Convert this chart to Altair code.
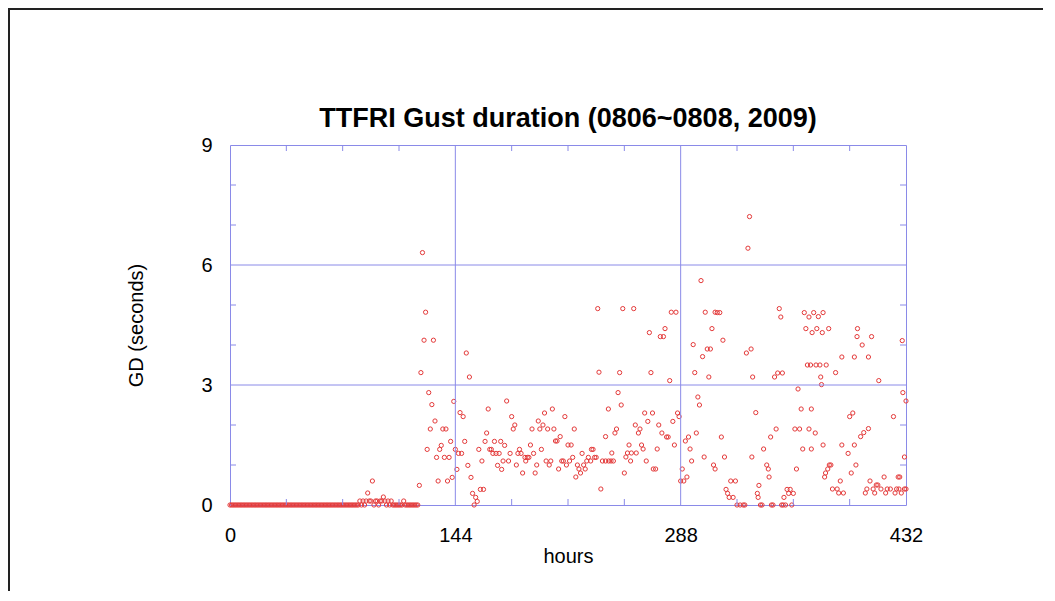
import altair as alt
import pandas as pd

# ---- data ----
hours_early = list(range(0, 121))
gd_early = [
    0, 0, 0, 0, 0, 0, 0, 0, 0, 0,
    0, 0, 0, 0, 0, 0, 0, 0, 0, 0,
    0, 0, 0, 0, 0, 0, 0, 0, 0, 0,
    0, 0, 0, 0, 0, 0, 0, 0, 0, 0,
    0, 0, 0, 0, 0, 0, 0, 0, 0, 0,
    0, 0, 0, 0, 0, 0, 0, 0, 0, 0,
    0, 0, 0, 0, 0, 0, 0, 0, 0, 0,
    0, 0, 0, 0, 0, 0, 0, 0, 0, 0,
    0, 0, 0, 0.1, 0, 0.1, 0, 0.1, 0.3, 0.1,
    0.1, 0.6, 0, 0.1, 0.1, 0, 0.1, 0.1, 0.2, 0.1,
    0, 0.1, 0, 0.1, 0, 0, 0, 0, 0, 0,
    0, 0.1, 0, 0, 0, 0, 0, 0, 0, 0,
    0,
]

hours_late = [
    121, 122, 123, 124, 125, 126, 127, 128, 129, 130,
    131, 132, 133, 134, 135, 136, 137, 138, 139, 140,
    141, 142, 143, 144, 145, 146, 147, 148, 149, 150,
    151, 152, 153, 154, 155, 156, 157, 158, 159, 160,
    161, 162, 163, 164, 165, 166, 167, 168, 169, 170,
    171, 172, 173, 173.6, 174.5, 175.5, 176.8, 178, 179, 180,
    181, 182, 183, 184, 185, 186, 187, 188.5, 189, 190,
    191, 192, 193, 194, 195, 196, 197, 198, 199, 200,
    201, 202, 203, 204, 205, 206, 207, 208, 209, 210,
    211, 212, 213, 214, 215, 216, 217, 218, 219, 220,
    221, 222, 223, 224, 225, 226, 227, 228, 229, 230.5,
    231, 232, 233, 234, 235, 235.8, 237, 238, 240, 240,
    241.8, 242, 243.5, 244, 245, 246, 247, 248, 249, 250,
    251, 252, 253, 254, 255, 256, 256.5, 258, 259, 259.6,
    261, 262, 263, 264, 265, 266, 267, 268, 269, 270,
    270.5, 272, 273, 274, 275, 276, 277, 278, 279, 280,
    281, 282, 283, 284, 285, 286, 287, 288, 289, 290,
    291, 292, 293, 294, 295, 296, 297, 298, 299, 300,
    301, 302, 303, 303.7, 305, 306, 307, 308, 309, 310,
    310, 311.4, 313, 314, 315, 316, 317, 318, 319, 320,
    321.5, 323, 324, 326, 328, 329, 330, 331, 332, 333,
    333.5, 334, 336, 337, 337.5, 338, 339, 340, 341, 343,
    344, 344.5, 345.5, 346, 347, 348, 349, 350, 351, 352,
    352.5, 353, 353.5, 354, 355, 356, 357, 358, 359, 360,
    361, 362, 363, 364, 365, 366, 367, 368, 369, 370,
    370, 371, 371.5, 371.5, 372, 373, 374, 374.5, 375, 376,
    377, 377.5, 378, 378.5, 379, 379, 380, 380.6, 381, 382,
    382.6, 383, 384, 385, 387, 388, 389, 390, 391, 391,
    392, 395, 396, 397, 398, 399, 399, 400, 400.7, 401,
    403, 404, 405, 406, 407, 408, 408, 409, 410, 411,
    412, 413, 414, 414.6, 416, 418, 419, 420, 422, 424,
    425, 426, 427, 427.5, 428, 429, 429.6, 430, 431, 431,
    432, 432,
]
gd_late = [
    0.49, 3.31, 6.31, 4.12, 4.82, 1.39, 2.81, 1.9, 2.51, 4.12,
    2.1, 1.19, 0.6, 1.39, 1.49, 1.9, 1.19, 1.9, 0.6, 1.19,
    1.59, 0.69, 2.59, 1.39, 0.89, 1.29, 2.31, 1.29, 2.21, 1.59,
    3.8, 0.99, 3.2, 0.69, 0.29, 0, 0.19, 0.09, 1.39, 0.39,
    1.1, 0.39, 1.59, 1.8, 2.4, 1.39, 1.39, 1.29, 1.59, 1.29,
    0.99, 1.29, 1.59, 0.89, 1.1, 1.49, 2.6, 1.1, 1.29, 2.21,
    1.9, 2.0, 1.0, 1.29, 1.39, 1.29, 0.8, 1.19, 1.1, 1.19,
    1.19, 1.5, 1.9, 1.29, 0.8, 1.0, 2.1, 1.9, 1.39, 2.0,
    2.3, 1.1, 1.9, 1.0, 1.1, 2.4, 1.9, 1.6, 1.6, 0.9,
    1.71, 1.1, 1.1, 2.21, 1.0, 1.5, 1.1, 1.5, 1.19, 1.9,
    0.7, 1.0, 0.9, 0.8, 1.29, 1.0, 0.9, 1.1, 1.19, 1.1,
    1.39, 1.39, 1.19, 1.19, 4.91, 3.32, 0.4, 1.1, 1.1, 1.71,
    2.4, 1.1, 1.1, 1.3, 1.1, 1.8, 1.9, 2.81, 3.31, 2.5,
    4.91, 0.8, 1.2, 1.3, 1.5, 1.1, 1.3, 4.91, 2.0, 1.3,
    1.8, 1.9, 1.5, 1.4, 2.3, 1.1, 2.09, 4.31, 3.31, 2.3,
    0.9, 0.9, 1.4, 2.0, 4.21, 1.8, 4.21, 4.41, 1.7, 1.7,
    3.11, 4.82, 2.09, 1.5, 4.82, 2.3, 2.21, 0.6, 0.9, 0.6,
    1.6, 0.7, 1.7, 1.4, 1.1, 4.01, 3.31, 1.8, 2.7, 2.5,
    5.61, 3.71, 1.2, 4.82, 3.9, 3.2, 3.9, 4.41, 1.0, 0.9,
    4.82, 4.81, 4.81, 1.7, 4.12, 1.2, 0.39, 0.29, 0.19, 0.6,
    0.19, 0.6, 0, 0, 0, 0, 3.8, 6.42, 7.21, 3.9,
    1.2, 3.2, 2.31, 0.29, 0.19, 0.49, 0, 0, 1.4, 1.0,
    0.9, 0.7, 1.7, 0, 0, 3.2, 1.9, 3.3, 4.91, 4.7,
    0, 3.3, 0, 0.19, 0, 0.39, 0.29, 0.39, 0, 0.29,
    1.9, 0.9, 2.9, 1.9, 2.4, 1.4, 4.81, 4.41, 3.5, 4.7,
    1.9, 3.5, 2.4, 1.4, 4.31, 4.81, 1.8, 3.5, 4.41, 4.71,
    3.5, 3.2, 3.01, 4.31, 4.81, 1.5, 0.7, 0.8, 3.5, 0.9,
    4.41, 1.0, 1.0, 0.4, 3.31, 0.4, 0.3, 0.6, 3.7, 1.5,
    0.3, 1.29, 2.21, 0.8, 2.3, 3.7, 1.5, 1.0, 4.21, 4.41,
    1.71, 4.0, 1.81, 0.3, 0.4, 3.7, 1.91, 0.6, 4.21, 0.4,
    0.3, 0.5, 0.5, 3.11, 0.4, 0.7, 0.3, 0.4, 0.4, 2.21,
    0.3, 0.4, 0.7, 0.4, 0.7, 0.3, 4.11, 2.81, 1.2, 0.4,
    2.6, 0.4,
]

x_tick_values = [0, 144, 288, 432]
y_tick_values = [0, 3, 6, 9]
x_minor = [36, 72, 108, 180, 216, 252, 324, 360, 396]
y_minor = [1, 2, 4, 5, 7, 8]
x_grid = [144, 288]
y_grid = [3, 6]

title_text = "TTFRI Gust duration (0806~0808, 2009)"

# ---- chart ----
FONT = "Liberation Sans"
BLUE = "#8a8ae8"
RED = "#e43a3a"
W, H = 676, 360

df = pd.DataFrame({"hours": hours_early + hours_late, "gd": gd_early + gd_late})
xs = alt.Scale(domain=[0, 432], nice=False, zero=False)
ys = alt.Scale(domain=[0, 9], nice=False)

x_axis = alt.Axis(
    values=x_tick_values, format="d", ticks=False, domain=False, grid=False,
    labelFont=FONT, labelFontSize=20, labelColor="black", labelPadding=20,
    labelFlush=False,
    title="hours", titleFont=FONT, titleFontSize=20, titleFontWeight="normal",
    titleColor="black", titleY=57, titleBaseline="alphabetic",
)
y_axis = alt.Axis(
    values=y_tick_values, format="d", ticks=False, domain=False, grid=False,
    labelFont=FONT, labelFontSize=20, labelColor="black", labelPadding=18,
    title="GD (seconds)", titleFont=FONT, titleFontSize=20,
    titleFontWeight="normal", titleColor="black", titleAngle=270,
    titleX=-88, titleY=H / 2, titleAlign="center", titleBaseline="alphabetic",
)


def X():
    return alt.X("hours:Q", scale=xs, axis=x_axis)


def Y():
    return alt.Y("gd:Q", scale=ys, axis=y_axis)


one = pd.DataFrame({"t": [title_text]})
title_mark = alt.Chart(one).mark_text(
    font=FONT, fontSize=27, fontWeight="bold", color="black",
    align="center", baseline="alphabetic",
).encode(text="t:N", x=alt.value(W / 2), y=alt.value(-18))

# outer figure frame (decoration)
frame = alt.Chart(one).mark_rect(
    fillOpacity=0, stroke="#222222", strokeWidth=2
).encode(x=alt.value(-221), x2=alt.value(814), y=alt.value(-136), y2=alt.value(900))

vgrid = alt.Chart(pd.DataFrame({"hours": x_grid})).mark_rule(
    color=BLUE, strokeWidth=1
).encode(x=X())

hgrid = alt.Chart(pd.DataFrame({"gd": y_grid})).mark_rule(
    color=BLUE, strokeWidth=1
).encode(y=Y())

xminor_df = pd.DataFrame({"hours": x_minor})
yminor_df = pd.DataFrame({"gd": y_minor})
tick_bottom = alt.Chart(xminor_df).mark_rule(color=BLUE, strokeWidth=1).encode(
    x=X(), y=alt.value(H), y2=alt.value(H - 6)
)
tick_top = alt.Chart(xminor_df).mark_rule(color=BLUE, strokeWidth=1).encode(
    x=X(), y=alt.value(0), y2=alt.value(6)
)
tick_left = alt.Chart(yminor_df).mark_rule(color=BLUE, strokeWidth=1).encode(
    y=Y(), x=alt.value(0), x2=alt.value(6)
)
tick_right = alt.Chart(yminor_df).mark_rule(color=BLUE, strokeWidth=1).encode(
    y=Y(), x=alt.value(W), x2=alt.value(W - 6)
)

points = alt.Chart(df).mark_point(
    shape="circle", filled=False, size=18, strokeWidth=1, color=RED, opacity=1
).encode(x=X(), y=Y())

chart = alt.layer(
    points, frame, vgrid, hgrid, tick_bottom, tick_top, tick_left, tick_right,
    title_mark
).properties(
    width=W,
    height=H,
    autosize=alt.AutoSizeParams(type="none"),
    padding={"left": 222, "top": 137, "right": 137, "bottom": 86},
    background="white",
).configure_view(stroke=BLUE, strokeWidth=1)

chart.save("out.html", embed_options={"renderer": "svg", "actions": False})
